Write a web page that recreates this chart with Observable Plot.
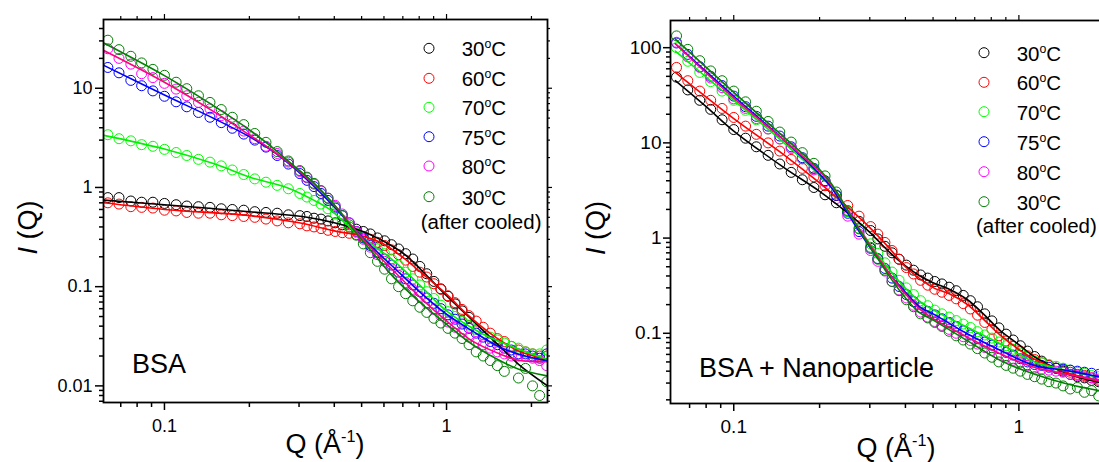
<!DOCTYPE html>
<html><head><meta charset="utf-8">
<script src="https://cdn.jsdelivr.net/npm/d3@7"></script>
<script src="https://cdn.jsdelivr.net/npm/@observablehq/plot@0.6"></script>
<style>
html,body{margin:0;padding:0;background:#fff;overflow:hidden;}
#wrap{position:relative;width:1099px;height:462px;overflow:hidden;font-family:"Liberation Sans",Arial,sans-serif;}
#left{position:absolute;left:0;top:0;width:560px;height:462px;}
#right{position:absolute;left:560px;top:0;width:570px;height:462px;}
#left svg,#right svg{max-width:none !important;}
#overlay{position:absolute;left:0;top:0;pointer-events:none;font-family:"Liberation Sans",Arial,sans-serif;}
</style></head><body>
<div id="wrap"><div id="left"></div><div id="right"></div><svg id="overlay" width="1099" height="462"></svg></div>
<script>
// ---------- data ----------
const qPoints = [0.063,0.069,0.076,0.083,0.091,0.100,0.110,0.120,0.132,0.145,0.159,0.174,0.191,0.209,0.229,0.251,0.275,0.302,0.320,0.339,0.359,0.380,0.403,0.427,0.452,0.479,0.507,0.537,0.569,0.603,0.638,0.676,0.716,0.759,0.804,0.851,0.902,0.955,1.012,1.072,1.135,1.202,1.274,1.349,1.429,1.514,1.603,1.698,1.799,1.905,2.018,2.138,2.265];

// BSA panel (measured points)
const bsa30  = [0.79,0.79,0.73,0.71,0.71,0.69,0.67,0.65,0.64,0.63,0.61,0.60,0.59,0.57,0.56,0.55,0.53,0.52,0.51,0.49,0.48,0.46,0.44,0.42,0.40,0.38,0.36,0.34,0.31,0.29,0.265,0.24,0.215,0.19,0.16,0.135,0.113,0.095,0.08,0.067,0.057,0.049];
const bsa60  = [0.70,0.68,0.64,0.63,0.62,0.59,0.58,0.56,0.55,0.55,0.53,0.52,0.51,0.50,0.48,0.46,0.44,0.43,0.41,0.40,0.385,0.37,0.36,0.35,0.345,0.335,0.32,0.30,0.28,0.26,0.235,0.21,0.185,0.16,0.14,0.125,0.107,0.094,0.081,0.069,0.059,0.051,0.045,0.039,0.034,0.030,0.028,0.025,0.023,0.022,0.021,0.020,0.020];
const bsa70  = [3.4,3.1,2.95,2.7,2.6,2.42,2.25,2.1,1.92,1.8,1.65,1.5,1.35,1.22,1.13,1.05,0.97,0.87,0.80,0.74,0.68,0.61,0.54,0.47,0.40,0.35,0.31,0.275,0.24,0.215,0.19,0.165,0.14,0.12,0.104,0.089,0.076,0.065,0.056,0.050,0.045,0.041,0.037,0.033,0.031,0.029,0.027,0.025,0.024,0.022,0.021,0.021,0.023];
const bsa75  = [16.2,14.3,12.0,10.6,9.4,8.3,7.3,6.5,5.7,5.1,4.5,3.95,3.45,3.0,2.55,2.1,1.72,1.38,1.18,1.02,0.87,0.74,0.62,0.52,0.44,0.36,0.31,0.26,0.22,0.19,0.165,0.14,0.12,0.104,0.089,0.077,0.068,0.060,0.052,0.047,0.042,0.038,0.034,0.031,0.028,0.026,0.024,0.023,0.021,0.021,0.020,0.019,0.021];
const bsa80  = [25,20,17.5,14,12.8,11.2,9.8,8.4,7.2,6.2,5.3,4.4,3.7,3.1,2.6,2.2,1.8,1.45,1.25,1.08,0.92,0.78,0.66,0.54,0.44,0.36,0.30,0.25,0.21,0.18,0.152,0.13,0.11,0.094,0.080,0.068,0.059,0.051,0.044,0.039,0.035,0.031,0.028,0.026,0.024,0.022,0.021,0.020,0.020,0.020,0.019,0.018,0.016];
const bsa30c = [30.5,24.5,21,18,15.5,13.5,11.5,9.9,8.4,7.2,6.1,5.1,4.3,3.5,2.85,2.3,1.85,1.48,1.27,1.1,0.93,0.78,0.64,0.52,0.42,0.33,0.27,0.22,0.18,0.15,0.12,0.10,0.085,0.072,0.062,0.055,0.048,0.043,0.038,0.034,0.030,0.026,0.022,0.020,0.018,0.016,0.014,0.017,0.012,0.015,0.010,0.008,0.011];

// BSA panel (fit curves: [Q, I])
const bsaFit30  = [[0.061,0.745],[0.1,0.67],[0.2,0.57],[0.32,0.50],[0.4,0.44],[0.5,0.365],[0.61,0.279],[0.71,0.212],[0.82,0.144],[1.0,0.081],[1.17,0.053],[1.35,0.036],[1.56,0.0243],[1.8,0.0165],[2.28,0.010]];
const bsaFit60  = [[0.061,0.70],[0.1,0.60],[0.2,0.52],[0.3,0.44],[0.4,0.365],[0.5,0.325],[0.6,0.268],[0.7,0.197],[0.8,0.144],[1.0,0.084],[1.2,0.0507],[1.5,0.0306],[1.8,0.0225],[2.28,0.0185]];
const bsaFit70  = [[0.061,3.35],[0.1,2.44],[0.151,1.72],[0.202,1.26],[0.271,1.0],[0.342,0.733],[0.384,0.604],[0.47,0.366],[0.65,0.182],[0.82,0.098],[1.0,0.0569],[1.35,0.0331],[1.8,0.0234],[2.28,0.0185]];
const bsaFit75  = [[0.0612,16.9],[0.1,8.55],[0.151,4.9],[0.202,3.2],[0.241,2.34],[0.287,1.585],[0.342,1.0],[0.407,0.603],[0.471,0.38],[0.553,0.24],[0.65,0.156],[0.82,0.084],[1.0,0.0527],[1.233,0.0358],[1.556,0.0243],[1.803,0.0208],[2.28,0.0178]];
const bsaFit80  = [[0.0612,23.9],[0.1,11.5],[0.151,5.71],[0.202,3.32],[0.241,2.37],[0.287,1.62],[0.342,1.047],[0.407,0.631],[0.471,0.38],[0.553,0.229],[0.65,0.144],[0.82,0.0746],[1.0,0.0452],[1.233,0.0284],[1.556,0.0208],[1.803,0.0181],[2.28,0.0175]];
const bsaFit30c = [[0.0612,28.4],[0.1,13.4],[0.151,6.52],[0.202,3.73],[0.241,2.54],[0.287,1.66],[0.342,1.08],[0.407,0.628],[0.471,0.366],[0.553,0.212],[0.65,0.124],[0.82,0.0665],[1.0,0.0418],[1.233,0.0262],[1.556,0.0178],[1.803,0.0147],[2.28,0.0126]];

// BSA + Nanoparticle panel (measured points)
const np30  = [49,36,28,22.5,17.5,13.8,11.2,9.1,7.4,6.0,4.9,4.1,3.4,2.85,2.35,1.9,1.5,1.2,0.98,0.82,0.70,0.60,0.52,0.46,0.41,0.38,0.35,0.33,0.305,0.28,0.25,0.22,0.19,0.16,0.135,0.114,0.098,0.085,0.074,0.065,0.057,0.051,0.046,0.043,0.040,0.037,0.035,0.034,0.032,0.031,0.030,0.029,0.028];
const np60  = [62,45,35,28,23,18.5,15,12.3,10,8.2,6.7,5.4,4.4,3.55,2.8,2.2,1.7,1.32,1.1,0.9,0.74,0.6,0.49,0.42,0.36,0.32,0.29,0.27,0.25,0.23,0.205,0.18,0.155,0.13,0.11,0.094,0.083,0.073,0.065,0.058,0.053,0.049,0.046,0.043,0.041,0.039,0.037,0.036,0.034,0.032,0.031,0.030,0.029];
const np70  = [100,72,55,44,35,28,22,17.5,14,11,8.7,6.8,5.3,4.0,2.85,1.9,1.27,0.87,0.69,0.55,0.44,0.36,0.30,0.255,0.22,0.195,0.175,0.16,0.148,0.136,0.125,0.115,0.104,0.096,0.089,0.081,0.074,0.068,0.062,0.056,0.051,0.049,0.047,0.045,0.043,0.041,0.039,0.038,0.036,0.035,0.034,0.033,0.032];
const np75  = [112,85,63,50,40,31,24,19,15,11.8,9.1,7.0,5.4,4.0,2.8,1.82,1.17,0.78,0.61,0.48,0.38,0.31,0.255,0.215,0.185,0.17,0.156,0.142,0.13,0.118,0.106,0.096,0.088,0.081,0.075,0.069,0.063,0.059,0.054,0.050,0.047,0.046,0.044,0.043,0.042,0.041,0.040,0.039,0.038,0.037,0.037,0.036,0.037];
const np80  = [114,80,62,48,38,29,23,18,14,11,8.8,6.8,5.2,3.9,2.6,1.7,1.1,0.74,0.57,0.45,0.35,0.285,0.235,0.197,0.167,0.148,0.133,0.121,0.11,0.1,0.092,0.084,0.077,0.071,0.066,0.06,0.056,0.052,0.049,0.046,0.043,0.042,0.041,0.040,0.039,0.037,0.036,0.035,0.034,0.033,0.031,0.030,0.029];
const np30c = [133,96,73,57,45,35,27,21.5,16.8,13,10.2,7.9,6.1,4.5,3.05,1.95,1.25,0.80,0.60,0.46,0.35,0.28,0.225,0.19,0.16,0.145,0.13,0.118,0.105,0.094,0.085,0.077,0.069,0.062,0.056,0.050,0.046,0.043,0.040,0.037,0.035,0.033,0.031,0.030,0.028,0.026,0.027,0.024,0.025,0.022,0.024,0.021,0.022];

// BSA + Nanoparticle panel (fit curves)
const npFit30  = [[0.0624,45],[0.08,24],[0.1,13.3],[0.15,5.5],[0.2,3.1],[0.25,1.85],[0.3,1.15],[0.35,0.72],[0.4,0.51],[0.45,0.40],[0.5,0.34],[0.57,0.29],[0.66,0.225],[0.75,0.16],[0.86,0.107],[1.0,0.076],[1.13,0.057],[1.3,0.045],[1.5,0.037],[1.9,0.0307],[2.29,0.028]];
const npFit60  = [[0.0624,55],[0.1,18],[0.15,7.5],[0.2,3.8],[0.25,2.14],[0.3,1.29],[0.35,0.794],[0.4,0.50],[0.45,0.372],[0.5,0.302],[0.57,0.26],[0.66,0.20],[0.75,0.141],[0.86,0.0955],[1.0,0.0676],[1.13,0.0537],[1.3,0.0447],[1.5,0.038],[1.9,0.0316],[2.29,0.0288]];
const npFit70  = [[0.0624,92],[0.1,28],[0.15,10],[0.2,4.57],[0.22,3.39],[0.25,1.92],[0.275,1.26],[0.316,0.708],[0.355,0.447],[0.398,0.302],[0.447,0.219],[0.504,0.174],[0.659,0.1156],[0.863,0.0773],[1.13,0.0501],[1.479,0.0405],[1.919,0.0344],[2.29,0.0316]];
const npFit75  = [[0.0624,110],[0.1,30.9],[0.15,10.7],[0.2,4.68],[0.22,3.39],[0.25,1.86],[0.275,1.175],[0.316,0.646],[0.355,0.407],[0.398,0.275],[0.447,0.191],[0.504,0.158],[0.659,0.099],[0.863,0.066],[1.13,0.046],[1.479,0.0405],[1.919,0.035],[2.29,0.0331]];
const npFit80  = [[0.0624,110],[0.1,29.5],[0.15,10.7],[0.2,5.0],[0.22,3.63],[0.25,2.0],[0.275,1.26],[0.316,0.676],[0.355,0.407],[0.398,0.263],[0.447,0.182],[0.504,0.141],[0.659,0.0912],[0.863,0.0607],[1.13,0.044],[1.479,0.0372],[1.919,0.0318],[2.29,0.0295]];
const npFit30c = [[0.0624,123],[0.1,33.9],[0.15,11.5],[0.2,5.25],[0.22,3.72],[0.25,2.0],[0.275,1.23],[0.316,0.646],[0.355,0.38],[0.398,0.24],[0.447,0.166],[0.504,0.136],[0.659,0.0838],[0.863,0.0516],[1.13,0.0373],[1.479,0.0293],[1.919,0.0249],[2.29,0.0229]];

// legend / ticks
const legendTemps = ["30","60","70","75","80","30"];
const legendNote = "(after cooled)";
const xMajorTicks = [0.1, 1];
const xMajorLabels = ["0.1", "1"];
const xMinorTicks = [0.07,0.08,0.09,0.2,0.3,0.4,0.5,0.6,0.7,0.8,0.9,2];
const yMajorTicksBSA = [0.01, 0.1, 1, 10];
const yMajorLabelsBSA = ["0.01", "0.1", "1", "10"];
const yMinorTicksBSA = [0.007,0.008,0.009,0.02,0.03,0.04,0.05,0.06,0.07,0.08,0.09,0.2,0.3,0.4,0.5,0.6,0.7,0.8,0.9,2,3,4,5,6,7,8,9,20,30,40];
const yMajorTicksNP = [0.1, 1, 10, 100];
const yMajorLabelsNP = ["0.1", "1", "10", "100"];
const yMinorTicksNP = [0.02,0.03,0.04,0.05,0.06,0.07,0.08,0.09,0.2,0.3,0.4,0.5,0.6,0.7,0.8,0.9,2,3,4,5,6,7,8,9,20,30,40,50,60,70,80,90];

// ---------- drawing ----------
const dotColors  = ["#000000","#ff0000","#00ff00","#0000ff","#ff00ff","#008000"];
const lineColors = ["#000000","#ff0000","#00f000","#0000ff","#ff0080","#008000"];
const toPoints = arr => arr.map((v, i) => ({q: qPoints[i], v}));

function panel(o) {
  const H = 462;
  const innerW = o.width - o.ml - o.mr;
  const innerH = H - o.mt - o.mb;
  const marks = [];
  o.series.forEach((s, k) => marks.push(Plot.dot(toPoints(s), {x: "q", y: "v", r: 5, stroke: dotColors[k], strokeWidth: 1, fill: "none", clip: true})));
  o.fits.forEach((f, k) => marks.push(Plot.line(f, {x: d => d[0], y: d => d[1], stroke: lineColors[k], strokeWidth: 1.6, curve: "catmull-rom", clip: true})));
  const xfmt = d => xMajorLabels[xMajorTicks.indexOf(d)];
  const yfmt = d => o.yLabels[o.yMajor.indexOf(d)];
  const tx = (ticks, anchor, ts, sw) => anchor === "bottom"
    ? Plot.ruleX(ticks, {x: d => d, insetTop: innerH - ts, dy: ts, stroke: "black", strokeWidth: sw})
    : Plot.ruleX(ticks, {x: d => d, insetBottom: innerH - ts, dy: -ts, stroke: "black", strokeWidth: sw});
  const ty = (ticks, anchor, ts, sw) => anchor === "left"
    ? Plot.ruleY(ticks, {y: d => d, insetRight: innerW - ts, dx: -ts, stroke: "black", strokeWidth: sw})
    : Plot.ruleY(ticks, {y: d => d, insetLeft: innerW - ts, dx: ts, stroke: "black", strokeWidth: sw});
  marks.push(
    tx(xMinorTicks, "bottom", 5, 1.5),
    tx(xMajorTicks, "bottom", 8, 1.5),
    tx(xMinorTicks, "top", 3, 1.2),
    tx(xMajorTicks, "top", 5, 1.2),
    ty(o.yMinor, "left", 4, 1.5),
    ty(o.yMajor, "left", o.yTick, 1.5),
    ty(o.yMinor, "right", 3, 1.2),
    ty(o.yMajor, "right", 5, 1.2),
    Plot.text(xMajorTicks, {x: d => d, frameAnchor: "bottom", lineAnchor: "top", dy: 8 + o.xPad, text: xfmt, fontSize: o.fs, fill: "black"}),
    Plot.text(o.yMajor, {y: d => d, frameAnchor: "left", textAnchor: "end", dx: -(o.yTick + o.yPad), text: yfmt, fontSize: o.fs, fill: "black"}),
    Plot.frame({stroke: "black", strokeWidth: 1.8})
  );
  return Plot.plot({
    width: o.width, height: H,
    marginLeft: o.ml, marginRight: o.mr, marginTop: o.mt, marginBottom: o.mb,
    x: {type: "log", domain: o.xDomain, axis: null},
    y: {type: "log", domain: o.yDomain, axis: null},
    style: {fontFamily: "'Liberation Sans', Arial, sans-serif", fontSize: o.fs + "px", color: "black", background: "transparent", overflow: "visible", maxWidth: "none"},
    marks
  });
}

document.getElementById("left").appendChild(panel({
  series: [bsa30, bsa60, bsa70, bsa75, bsa80, bsa30c],
  fits: [bsaFit30, bsaFit60, bsaFit70, bsaFit75, bsaFit80, bsaFit30c],
  width: 560, ml: 103, mr: 13, mt: 19, mb: 60,
  xDomain: [0.0608, 2.28], yDomain: [0.0068, 49.3],
  yMajor: yMajorTicksBSA, yLabels: yMajorLabelsBSA, yMinor: yMinorTicksBSA,
  fs: 18, xPad: 9, yTick: 8, yPad: 3
}));

document.getElementById("right").appendChild(panel({
  series: [np30, np60, np70, np75, np80, np30c],
  fits: [npFit30, npFit60, npFit70, npFit75, npFit80, npFit30c],
  width: 570, ml: 110, mr: 9, mt: 20, mb: 59,
  xDomain: [0.06, 2.29], yDomain: [0.0183, 193],
  yMajor: yMajorTicksNP, yLabels: yMajorLabelsNP, yMinor: yMinorTicksNP,
  fs: 19, xPad: 8, yTick: 7, yPad: 2
}));

// ---------- overlay texts ----------
const ov = d3.select("#overlay");
function legend(cx, tx, ys, noteX, noteY, fs) {
  legendTemps.forEach((lab, k) => {
    ov.append("circle").attr("cx", cx).attr("cy", ys[k]).attr("r", 5)
      .attr("fill", "none").attr("stroke", dotColors[k]).attr("stroke-width", 1);
    const t = ov.append("text").attr("x", tx).attr("y", ys[k] + 8).attr("font-size", fs);
    t.append("tspan").text(lab);
    t.append("tspan").attr("dy", -8).attr("font-size", fs * 0.6).text("o");
    t.append("tspan").attr("dy", 8).text("C");
  });
  ov.append("text").attr("x", noteX).attr("y", noteY).attr("font-size", fs).text(legendNote);
}
function qTitle(cx, y, fs) {
  const t = ov.append("text").attr("x", cx).attr("y", y).attr("font-size", fs).attr("text-anchor", "middle");
  t.append("tspan").text("Q (Å");
  t.append("tspan").attr("dy", -11).attr("font-size", fs * 0.6).text("-1");
  t.append("tspan").attr("dy", 11).text(")");
}
function iTitle(x, cy, fs) {
  const t = ov.append("text").attr("transform", `translate(${x},${cy}) rotate(-90)`)
    .attr("text-anchor", "middle").attr("font-size", fs);
  t.append("tspan").attr("font-style", "italic").text("I");
  t.append("tspan").text(" (Q)");
}
legend(429, 461.7, [48.3, 78.3, 107.3, 136.7, 166, 196.7], 420.7, 229, 20.5);
legend(984, 1016.7, [52.7, 82.3, 111.7, 141.7, 171.7, 201.7], 976, 233, 20.5);
qTitle(325, 452.7, 27);
qTitle(896, 456.5, 27);
iTitle(37, 227.5, 27);
iTitle(605, 228, 27);
ov.append("text").attr("x", 132).attr("y", 373).attr("font-size", 27).text("BSA");
ov.append("text").attr("x", 699).attr("y", 377).attr("font-size", 27).text("BSA + Nanoparticle");
</script>
</body></html>
